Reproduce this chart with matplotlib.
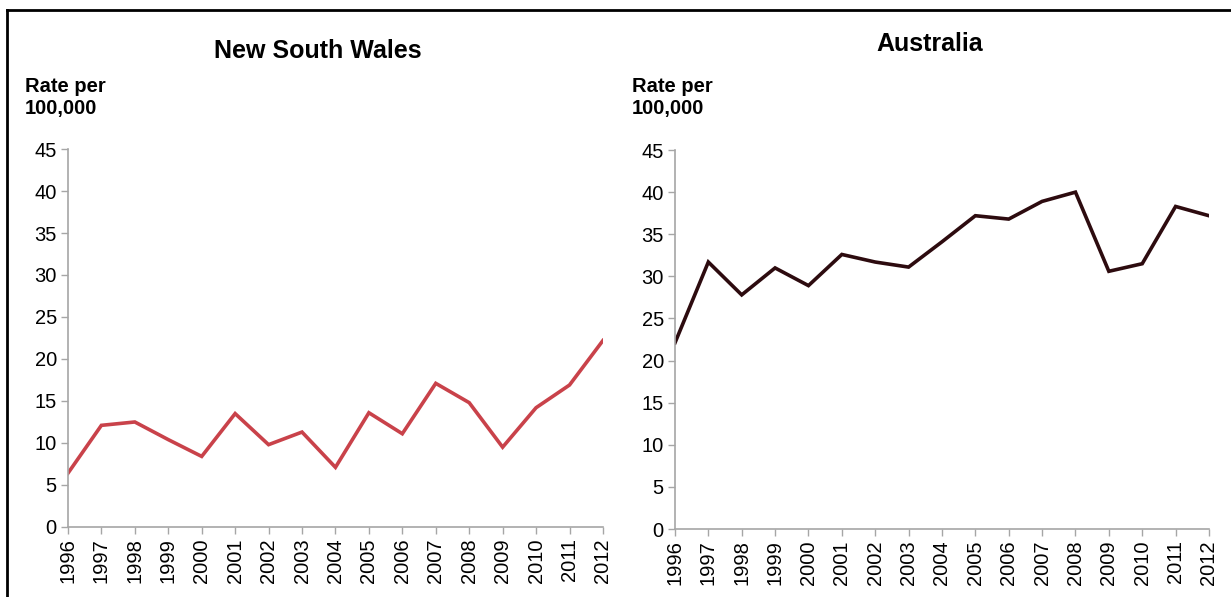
import matplotlib.pyplot as plt
from matplotlib.lines import Line2D

plt.rcParams['font.family'] = ['Liberation Sans', 'DejaVu Sans']

# Data
years = list(range(1996, 2013))
nsw_rate = [6.4, 12.1, 12.5, 10.4, 8.4, 13.5, 9.8, 11.3, 7.1, 13.6,
            11.1, 17.1, 14.8, 9.5, 14.2, 16.9, 22.2]
aus_rate = [22.1, 31.7, 27.8, 31.0, 28.9, 32.6, 31.7, 31.1, 34.1, 37.2,
            36.8, 38.9, 40.0, 30.6, 31.5, 38.3, 37.2]
y_ticks = [0, 5, 10, 15, 20, 25, 30, 35, 40, 45]

fig = plt.figure(figsize=(12.31, 5.97), dpi=100)

panels = [
    ("New South Wales", nsw_rate, "#C9424A", [0.0552, 0.1173, 0.4346, 0.6331], 0.258, 0.915),
    ("Australia", aus_rate, "#2D0B0F", [0.5483, 0.1139, 0.4338, 0.6348], 0.755, 0.926),
]

spine_col = "#A6A6A6"
for title, vals, col, rect, title_x, title_y in panels:
    ax = fig.add_axes(rect)
    ax.plot(years, vals, color=col, linewidth=2.6, solid_joinstyle='miter')
    ax.set_xlim(years[0], years[-1])
    ax.set_ylim(0, 45)
    ax.set_yticks(y_ticks)
    ax.set_xticks(years)
    ax.set_xticklabels([str(y) for y in years], rotation=90)
    ax.tick_params(axis='both', labelsize=14.5, color=spine_col, length=5,
                   width=1, pad=3)
    for s in ['top', 'right']:
        ax.spines[s].set_visible(False)
    for s in ['left', 'bottom']:
        ax.spines[s].set_color(spine_col)
        ax.spines[s].set_linewidth(1.2)
    ax.patch.set_alpha(0)

    left = rect[0]
    fig.text(title_x, title_y, title, ha='center', va='center',
             fontsize=18, fontweight='bold')
    fig.text(left - 0.035, 0.837, "Rate per\n100,000", ha='left', va='center',
             fontsize=14.5, fontweight='bold', linespacing=1.2)

# frame lines at the top and left edge
fig.add_artist(Line2D([0.006, 1.0], [0.983, 0.983], color='black',
                      linewidth=2, transform=fig.transFigure))
fig.add_artist(Line2D([0.006, 0.006], [0.0, 0.983], color='black',
                      linewidth=2, transform=fig.transFigure))

fig.savefig('out.png', dpi=100)
